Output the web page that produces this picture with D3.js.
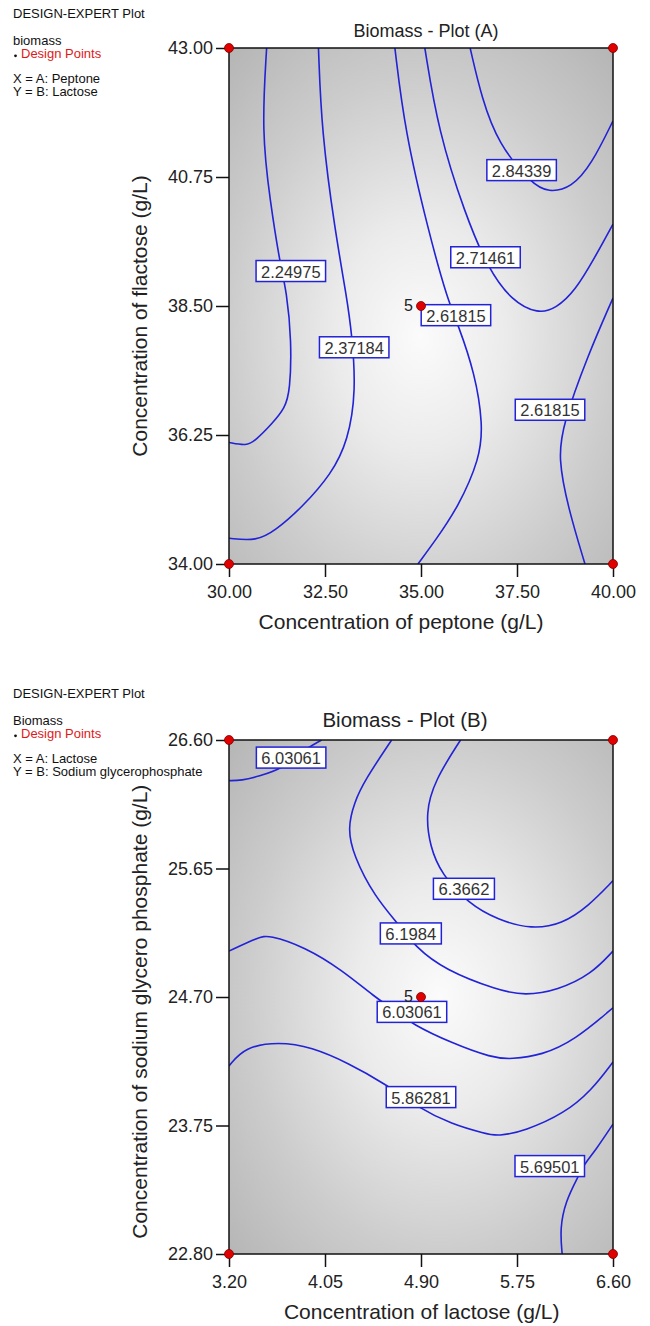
<!DOCTYPE html>
<html>
<head>
<meta charset="utf-8">
<script src="https://d3js.org/d3.v7.min.js"></script>
<style>
body { margin: 0; background: #fff; }
svg { display: block; font-family: "Liberation Sans", Arial, sans-serif; }
</style>
</head>
<body>
<div id="chart"></div>
<script>
// ---- data ----
var ticksAX = [30.00, 32.50, 35.00, 37.50, 40.00];
var ticksAY = [34.00, 36.25, 38.50, 40.75, 43.00];
var levelsA = ["2.24975", "2.37184", "2.61815", "2.71461", "2.84339", "2.61815"];
var linesA = [
  [[30.98,43.00],[30.85,41.55],[31.07,40.33],[31.33,39.23],[31.50,38.76],[31.63,37.89],[31.59,37.02],[31.46,36.72],[31.11,36.44],[30.68,36.15],[30.46,36.06],[30.00,36.12]],
  [[32.33,43.00],[32.41,41.55],[32.76,39.81],[33.07,38.64],[33.20,38.01],[33.31,37.02],[33.10,36.15],[32.67,35.57],[31.89,34.98],[31.20,34.58],[30.72,34.40],[30.00,34.45]],
  [[34.32,43.00],[34.58,41.55],[35.19,39.81],[35.70,38.59],[35.96,38.19],[36.41,37.31],[36.61,36.44],[36.54,35.85],[35.96,34.98],[35.36,34.40],[34.92,34.00]],
  [[35.10,43.00],[35.45,41.55],[36.15,40.10],[36.74,39.16],[37.36,38.59],[38.05,38.36],[38.52,38.46],[39.01,38.76],[39.53,39.35],[40.00,39.93]],
  [[36.28,43.00],[36.58,42.13],[37.01,41.33],[37.88,40.63],[38.32,40.48],[38.92,40.56],[39.45,40.98],[40.00,41.73]],
  [[40.00,38.64],[39.32,37.60],[38.70,36.44],[38.57,35.85],[38.83,34.98],[39.27,34.00]]
];
var labelsA = [[31.61,39.11],[33.26,37.78],[35.91,38.34],[36.68,39.35],[37.62,40.87],[38.36,36.69]];
var designA = [[30,34],[30,43],[40,34],[40,43],[35,38.5]];

var ticksBX = [3.20, 4.05, 4.90, 5.75, 6.60];
var ticksBY = [22.80, 23.75, 24.70, 25.65, 26.60];
var levelsB = ["6.03061", "6.1984", "6.3662", "6.03061", "5.86281", "5.69501"];
var linesB = [
  [[4.02,26.60],[3.83,26.51],[3.68,26.39],[3.46,26.33],[3.31,26.30],[3.20,26.30]],
  [[4.64,26.60],[4.40,26.30],[4.31,26.14],[4.25,25.95],[4.30,25.75],[4.49,25.44],[4.71,25.23],[4.85,25.07],[5.11,24.90],[5.58,24.75],[5.82,24.71],[6.11,24.75],[6.41,24.87],[6.60,25.04]],
  [[5.25,26.60],[5.02,26.30],[4.94,26.06],[4.98,25.81],[5.08,25.61],[5.32,25.39],[5.58,25.27],[5.88,25.20],[6.15,25.24],[6.38,25.37],[6.60,25.56]],
  [[3.20,25.04],[3.46,25.14],[3.55,25.16],[3.87,25.07],[4.20,24.90],[4.49,24.70],[4.67,24.60],[4.82,24.50],[5.17,24.36],[5.53,24.25],[5.70,24.24],[5.97,24.27],[6.26,24.38],[6.60,24.62]],
  [[3.20,24.19],[3.34,24.33],[3.64,24.37],[3.93,24.33],[4.26,24.21],[4.58,24.06],[4.88,23.88],[5.17,23.76],[5.47,23.69],[5.58,23.67],[5.82,23.71],[6.17,23.84],[6.41,24.01],[6.60,24.22]],
  [[6.60,23.76],[6.44,23.56],[6.35,23.47],[6.29,23.37],[6.18,23.19],[6.13,22.99],[6.15,22.80]]
];
var labelsB = [[3.75,26.47],[4.81,25.17],[5.28,25.50],[4.82,24.59],[4.90,23.96],[6.04,23.45]];
var designB = [[3.2,22.8],[3.2,26.6],[6.6,22.8],[6.6,26.6],[4.9,24.7]];

var centerRuns = "5";

var svgWidth = 650;
var svgHeight = 1326;

var svg = d3.select("#chart")
    .append("svg")
    .attr("width", svgWidth)
    .attr("height", svgHeight);

var defs = svg.append("defs");

function drawPlot(p) {
    var width = 384, height = p.height;

    // legend block top-left
    var leg = svg.append("g").attr("font-size", "13px").attr("fill", "#111");
    leg.append("text").attr("x", 13).attr("y", p.legTop).text("DESIGN-EXPERT Plot");
    leg.append("text").attr("x", 13).attr("y", p.legTop + 26.5).text(p.response);
    leg.append("circle").attr("cx", 15.5).attr("cy", p.legTop + 37.5).attr("r", 1.4).attr("fill", "#111");
    leg.append("text").attr("x", 21).attr("y", p.legTop + 40).attr("fill", "#e01818").text("Design Points");
    leg.append("text").attr("x", 13).attr("y", p.legTop + 65).text(p.xName);
    leg.append("text").attr("x", 13).attr("y", p.legTop + 78).text(p.yName);

    var chartGroup = svg.append("g")
        .attr("transform", `translate(229, ${p.top})`);

    var xScale = d3.scaleLinear()
        .domain([p.ticksX[0], p.ticksX[p.ticksX.length - 1]])
        .range([0, width]);
    var yScale = d3.scaleLinear()
        .domain([p.ticksY[0], p.ticksY[p.ticksY.length - 1]])
        .range([height, 0]);

    var grad = defs.append("radialGradient")
        .attr("id", p.id + "grad")
        .attr("cx", p.glow[0]).attr("cy", p.glow[1])
        .attr("fx", p.glow[0]).attr("fy", p.glow[1])
        .attr("r", 0.74);
    grad.append("stop").attr("offset", 0).attr("stop-color", "#fbfbfb");
    grad.append("stop").attr("offset", 0.3).attr("stop-color", "#ebebeb");
    grad.append("stop").attr("offset", 0.68).attr("stop-color", "#cccccc");
    grad.append("stop").attr("offset", 1).attr("stop-color", "#b6b6b6");

    defs.append("clipPath").attr("id", p.id + "clip")
        .append("rect").attr("width", width).attr("height", height);

    chartGroup.append("rect")
        .attr("width", width)
        .attr("height", height)
        .attr("fill", `url(#${p.id}grad)`);

    var line = d3.line()
        .x(d => xScale(d[0]))
        .y(d => yScale(d[1]))
        .curve(d3.curveBasis);

    chartGroup.append("g")
        .attr("clip-path", `url(#${p.id}clip)`)
        .selectAll("path")
        .data(p.lines)
        .enter()
        .append("path")
        .attr("d", line)
        .attr("fill", "none")
        .attr("stroke", "#2222d6")
        .attr("stroke-width", 1.6);

    // contour labels
    var lab = chartGroup.append("g")
        .selectAll("g")
        .data(p.levels)
        .enter()
        .append("g")
        .attr("transform", (d, i) => `translate(${xScale(p.labels[i][0])},${yScale(p.labels[i][1])})`);
    lab.append("rect")
        .attr("x", d => -(d.length * 8.5 + 10) / 2)
        .attr("y", -10.5)
        .attr("width", d => d.length * 8.5 + 10)
        .attr("height", 21)
        .attr("fill", "#fff")
        .attr("stroke", "#2222d6")
        .attr("stroke-width", 1.5);
    lab.append("text")
        .attr("text-anchor", "middle")
        .attr("y", 6.5)
        .attr("font-size", "17px")
        .attr("fill", "#333")
        .attr("textLength", d => d.length * 8.5)
        .attr("lengthAdjust", "spacingAndGlyphs")
        .text(d => d);

    chartGroup.append("rect")
        .attr("width", width)
        .attr("height", height)
        .attr("fill", "none")
        .attr("stroke", "#111")
        .attr("stroke-width", 1.5);

    var bottomAxis = d3.axisBottom(xScale)
        .tickValues(p.ticksX)
        .tickFormat(d3.format(".2f"))
        .tickSize(13)
        .tickSizeOuter(0)
        .tickPadding(8);
    var leftAxis = d3.axisLeft(yScale)
        .tickValues(p.ticksY)
        .tickFormat(d3.format(".2f"))
        .tickSize(13)
        .tickSizeOuter(0)
        .tickPadding(3);

    var xg = chartGroup.append("g")
        .attr("transform", `translate(0,${height})`)
        .call(bottomAxis);
    var yg = chartGroup.append("g")
        .call(leftAxis);
    [xg, yg].forEach(g => {
        g.attr("font-size", 18).attr("font-family", null);
        g.select(".domain").remove();
        g.selectAll("line").attr("stroke", "#111").attr("stroke-width", 1.5);
        g.selectAll("text").attr("fill", "#222");
    });

    chartGroup.append("g")
        .selectAll("circle")
        .data(p.design)
        .enter()
        .append("circle")
        .attr("cx", d => xScale(d[0]))
        .attr("cy", d => yScale(d[1]))
        .attr("r", 4.5)
        .attr("fill", "#e00000")
        .attr("stroke", "#7a0000")
        .attr("stroke-width", 0.8);

    var c = p.design[p.design.length - 1];
    chartGroup.append("text")
        .attr("x", xScale(c[0]) - 8)
        .attr("y", yScale(c[1]) + 5)
        .attr("text-anchor", "end")
        .attr("font-size", "16px")
        .attr("fill", "#222")
        .text(centerRuns);

    // titles
    svg.append("text")
        .attr("x", p.titleX).attr("y", p.titleY)
        .attr("text-anchor", "middle")
        .attr("font-size", p.titleSize)
        .attr("fill", "#222")
        .text(p.title);

    svg.append("text")
        .attr("x", p.xTitleX).attr("y", p.top + height + 64.5)
        .attr("text-anchor", "middle")
        .attr("font-size", "21px")
        .attr("fill", "#222")
        .text(p.xTitle);

    svg.append("text")
        .attr("transform", `translate(147,${p.yTitleY}) rotate(-90)`)
        .attr("text-anchor", "middle")
        .attr("font-size", "21px")
        .attr("fill", "#222")
        .text(p.yTitle);
}

drawPlot({
    id: "a", top: 48, height: 516, legTop: 18.3,
    response: "biomass", xName: "X = A: Peptone", yName: "Y = B: Lactose",
    ticksX: ticksAX, ticksY: ticksAY, lines: linesA, levels: levelsA, labels: labelsA, design: designA,
    glow: [0.5, 0.56],
    title: "Biomass - Plot (A)", titleX: 426, titleY: 36.7, titleSize: "18px",
    xTitle: "Concentration of peptone (g/L)", xTitleX: 401,
    yTitle: "Concentration of flactose (g/L)", yTitleY: 316
});

drawPlot({
    id: "b", top: 740, height: 514, legTop: 698.3,
    response: "Biomass", xName: "X = A: Lactose", yName: "Y = B: Sodium glycerophosphate",
    ticksX: ticksBX, ticksY: ticksBY, lines: linesB, levels: levelsB, labels: labelsB, design: designB,
    glow: [0.55, 0.5],
    title: "Biomass - Plot (B)", titleX: 405, titleY: 726.7, titleSize: "20.5px",
    xTitle: "Concentration of lactose (g/L)", xTitleX: 421.7,
    yTitle: "Concentration of sodium glycero phosphate (g/L)", yTitleY: 1011.7
});
</script>
</body>
</html>
